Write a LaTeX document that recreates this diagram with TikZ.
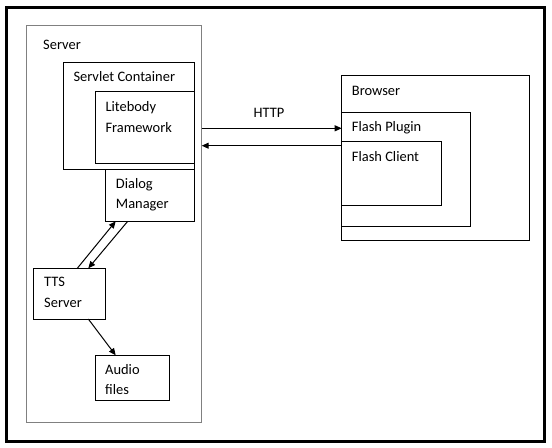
\documentclass[tikz,border=0pt]{standalone}
\usepackage{fontspec}
\setmainfont{Carlito}
\usetikzlibrary{arrows.meta,calc}
\begin{document}
\begin{tikzpicture}[x=1bp,y=-1bp,
  box/.style={draw=black,line width=1bp,inner sep=0pt,outer sep=0pt,anchor=north west},
  gbox/.style={box,draw=black!50},
  txt/.style={anchor=base west,inner sep=0pt,font=\fontsize{14.5}{20}\selectfont},
  arr/.style={line width=1bp,-{Triangle[length=7bp,width=6bp]}}]
\useasboundingbox (0,0) rectangle (552,448);
\fill[white] (0,0) rectangle (552,448);
\draw[line width=3bp] (6.5,7.5) rectangle (544.3,441);
% boxes
\node[gbox,minimum width=175bp,minimum height=396bp] (srv) at (26.7,26) {};
\node[box,minimum width=131bp,minimum height=107.7bp] (cont) at (63.3,62.3) {};
\node[box,minimum width=99bp,minimum height=71.3bp] (lite) at (95.3,92) {};
\node[box,minimum width=89bp,minimum height=51.3bp] (dlg) at (105.3,170) {};
\node[box,minimum width=72bp,minimum height=50.7bp] (tts) at (33.3,268.3) {};
\node[box,minimum width=74bp,minimum height=45bp] (aud) at (95.3,355.3) {};
\node[box,minimum width=187.6bp,minimum height=164bp] (brw) at (341.7,76) {};
\node[box,minimum width=128.6bp,minimum height=113.7bp] (plug) at (341.7,112.3) {};
\node[box,minimum width=99.6bp,minimum height=64bp] (fcl) at (341.7,142) {};
% texts
\node[txt] (tsrv) at (43,49.5) {Server};
\node[txt] (tcont) at (73.3,81.7) {Servlet Container};
\node[txt,align=left] (tlite) at (105.3,111.7) {Litebody};
\node[txt] (tlite2) at (105.3,132.3) {Framework};
\node[txt] (tdlg) at (115.7,189) {Dialog};
\node[txt] (tdlg2) at (115.7,209) {Manager};
\node[txt] (ttts) at (44,286.7) {TTS};
\node[txt] (ttts2) at (44,307.3) {Server};
\node[txt] (taud) at (105,374.3) {Audio};
\node[txt] (taud2) at (105,394.3) {files};
\node[txt] (tbrw) at (351.7,95.7) {Browser};
\node[txt] (tplug) at (351.7,131.7) {Flash Plugin};
\node[txt] (tfcl) at (351.7,161.7) {Flash Client};
\node[txt,anchor=base] (thttp) at (269,117.7) {HTTP};
% connectors
\draw[arr] (srv.east |- 0,128.3) -- (plug.west |- 0,128.3);
\draw[arr] (plug.west |- 0,145.7) -- (srv.east |- 0,145.7);
\draw[arr] (tts.north -| 77.3,0) -- (dlg.south -| 115.7,0);
\draw[arr] (dlg.south -| 127.7,0) -- (tts.north -| 88.3,0);
\draw[arr] (tts.south -| 88.3,0) -- (aud.north -| 115.7,0);
\end{tikzpicture}
\end{document}
